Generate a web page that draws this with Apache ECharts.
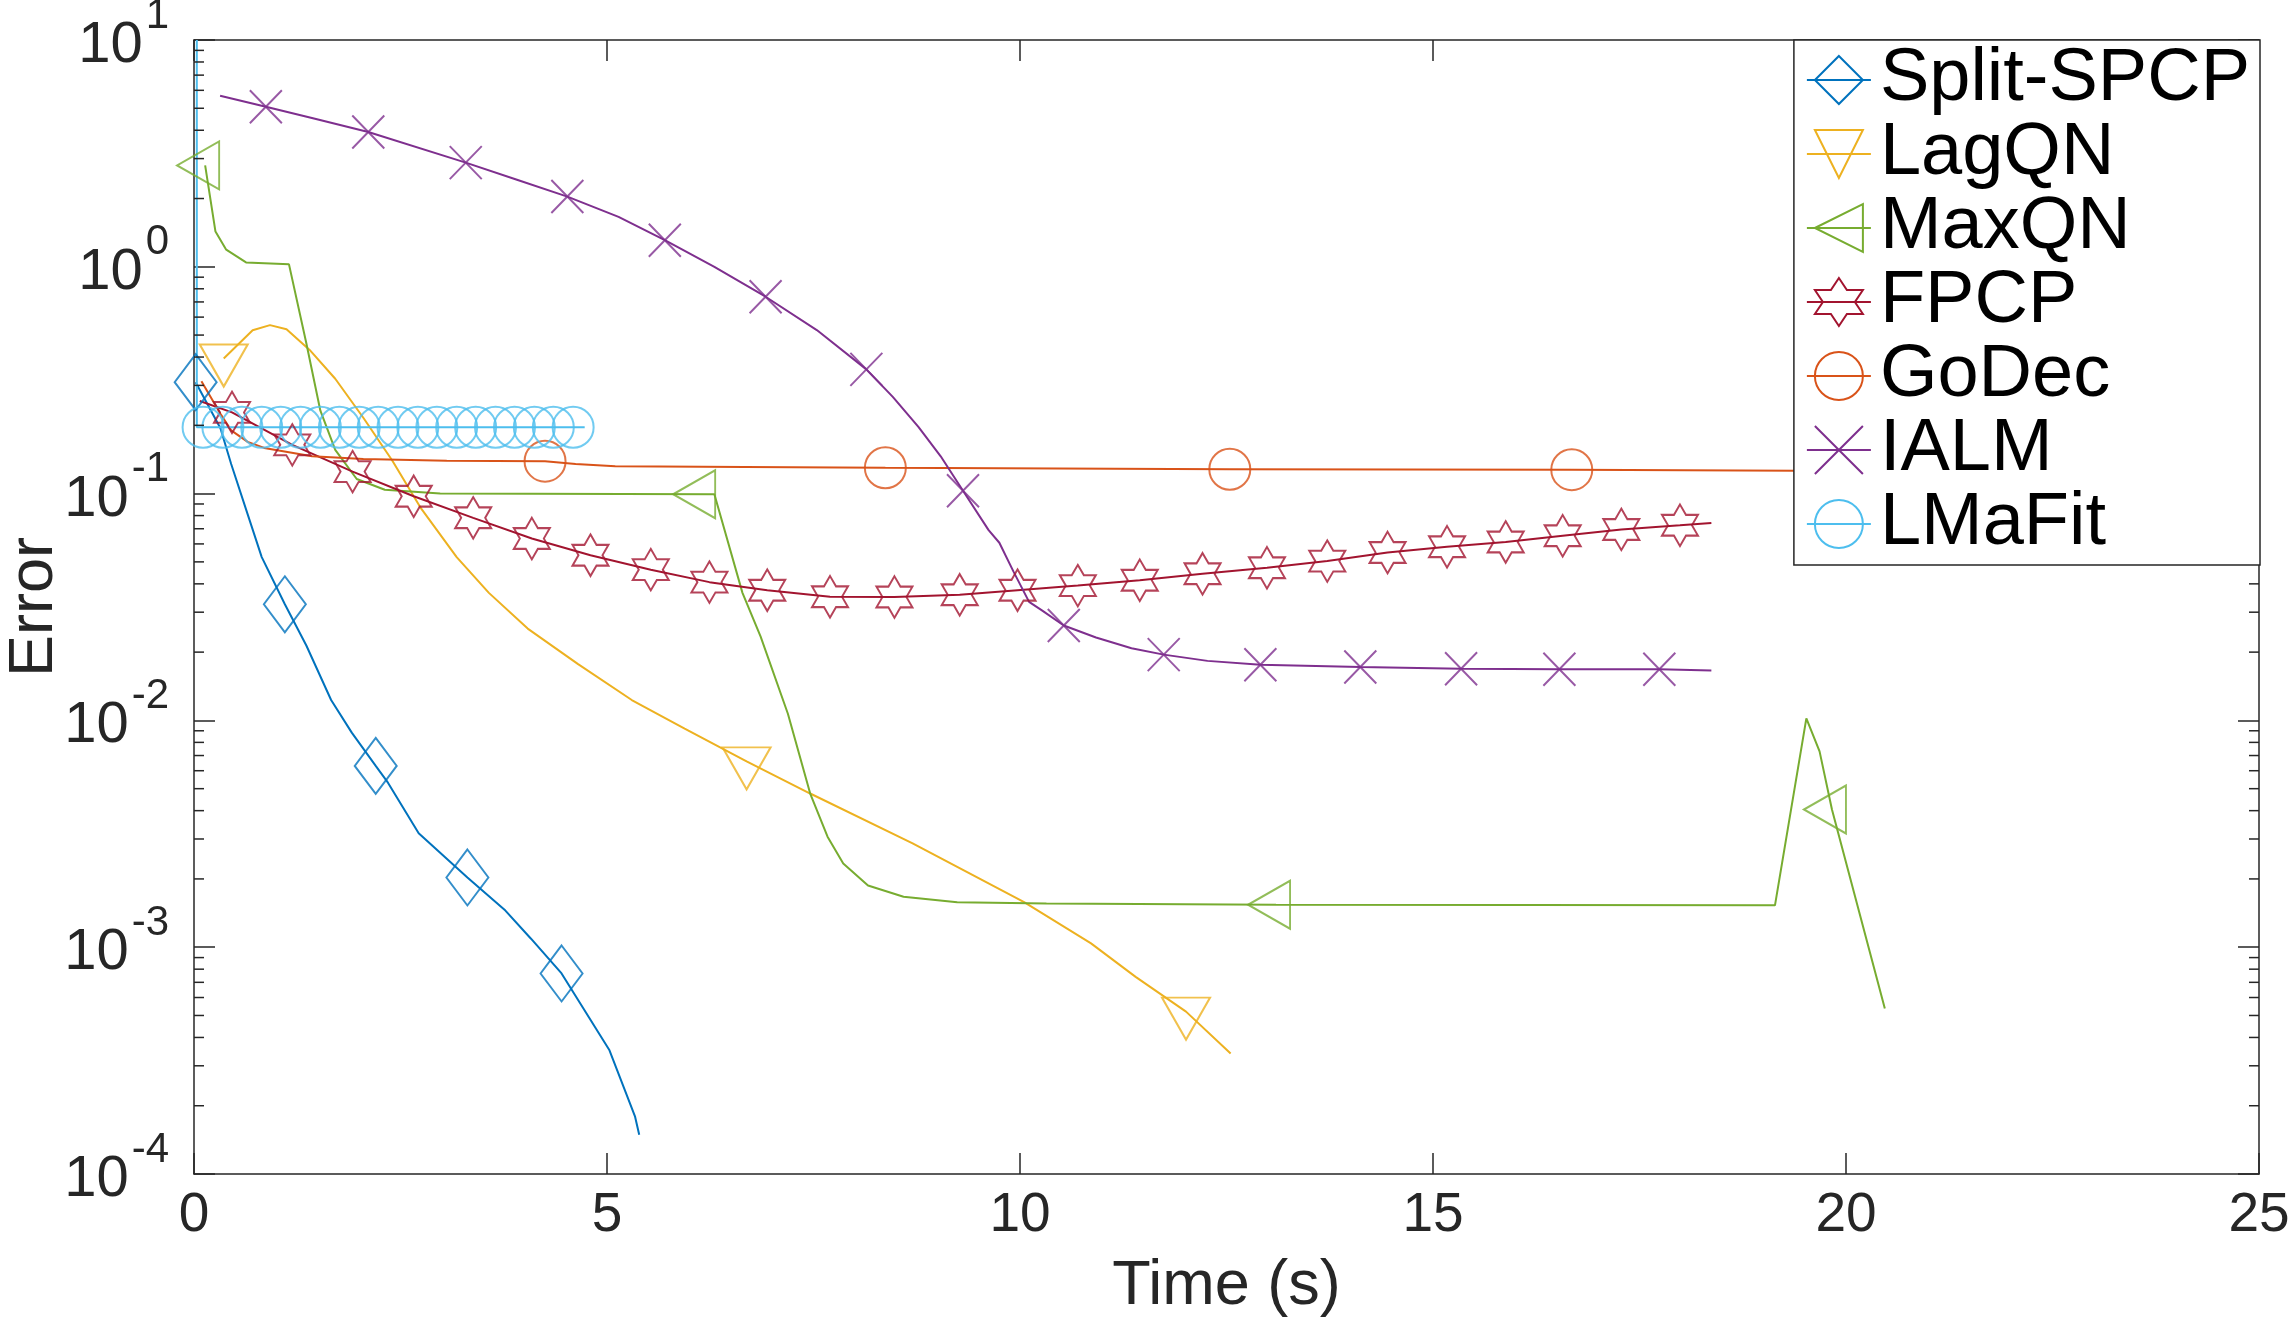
<!DOCTYPE html>
<html><head><meta charset="utf-8">
<script src="https://cdn.jsdelivr.net/npm/echarts@6/dist/echarts.min.js"></script>
<style>html,body{margin:0;padding:0;background:#fff}#c{width:2294px;height:1317px}</style>
</head><body><div id="c"></div>
<script>
// ---------------- data (time in s, error) ----------------
const seriesNames = ['Split-SPCP','LagQN','MaxQN','FPCP','GoDec','IALM','LMaFit'];
const xTickValues = [0,5,10,15,20,25];
const yTickExponents = [-4,-3,-2,-1,0,1];

const splitCurve = [[0.02,0.31],[0.32,0.194],[0.45,0.135],[0.65,0.081],[0.82,0.0525],[1.1,0.0325],[1.36,0.0214],[1.66,0.0123],[1.91,0.00883],[2.2,0.0063],[2.35,0.0053],[2.72,0.00318],[3.31,0.00203],[3.77,0.00145],[4.08,0.00109],[4.45,0.000766],[5.03,0.000351],[5.34,0.000179],[5.39,0.000149]];
const splitMarks = [[0.02,0.31],[1.1,0.0325],[2.2,0.0063],[3.31,0.00203],[4.45,0.000766]];

const lagCurve = [[0.36,0.394],[0.71,0.525],[0.92,0.553],[1.12,0.53],[1.40,0.43],[1.71,0.321],[2.05,0.216],[2.40,0.14],[2.74,0.087],[3.18,0.0525],[3.57,0.0365],[4.04,0.0254],[4.65,0.0177],[5.30,0.0123],[5.94,0.0092],[6.69,0.0066],[7.46,0.00476],[8.70,0.00287],[10.05,0.00158],[10.86,0.00104],[11.40,0.00074],[12.01,0.00052],[12.55,0.00034]];
const lagMarks = [[0.36,0.394],[6.69,0.0066],[12.01,0.00052]];

const maxCurve = [[0.135,2.80],[0.26,1.43],[0.39,1.19],[0.63,1.045],[1.15,1.025],[1.36,0.46],[1.53,0.232],[1.71,0.156],[1.97,0.116],[2.31,0.104],[2.98,0.1],[6.30,0.0993],[6.64,0.0365],[6.86,0.0234],[7.19,0.0107],[7.46,0.00476],[7.67,0.00307],[7.86,0.00234],[8.16,0.00187],[8.59,0.00167],[9.24,0.00158],[10.32,0.00156],[13.1,0.00154],[19.14,0.00153],[19.52,0.0102],[19.68,0.0073],[19.83,0.00405],[20.47,0.000537]];
const maxMarks = [[0.135,2.80],[6.14,0.0993],[13.1,0.00154],[19.83,0.00405]];

const fpcpCurve = [[0.07,0.256],[0.46,0.228],[1.19,0.164],[1.92,0.125],[2.66,0.0973],[3.38,0.0782],[4.09,0.0634],[4.80,0.0535],[5.53,0.0462],[6.24,0.0407],[6.94,0.0375],[7.70,0.0351],[8.48,0.0350],[9.27,0.0358],[9.97,0.0375],[10.70,0.0393],[11.45,0.0415],[12.21,0.0443],[12.99,0.0471],[13.72,0.0504],[14.45,0.0550],[15.17,0.0583],[15.88,0.0612],[16.57,0.0652],[17.28,0.0695],[17.99,0.0725],[18.37,0.0742]];
const fpcpMarks = [[0.46,0.228],[1.19,0.164],[1.92,0.125],[2.66,0.0973],[3.38,0.0782],[4.09,0.0634],[4.80,0.0535],[5.53,0.0462],[6.24,0.0407],[6.94,0.0375],[7.70,0.0351],[8.48,0.0350],[9.27,0.0358],[9.97,0.0375],[10.70,0.0393],[11.45,0.0415],[12.21,0.0443],[12.99,0.0471],[13.72,0.0504],[14.45,0.0550],[15.17,0.0583],[15.88,0.0612],[16.57,0.0652],[17.28,0.0695],[17.99,0.0725]];

const godecCurve = [[0.09,0.313],[0.32,0.225],[0.45,0.19],[0.65,0.169],[0.85,0.159],[1.43,0.146],[2.05,0.142],[3.06,0.1395],[4.25,0.139],[4.62,0.135],[5.10,0.132],[6.67,0.131],[8.37,0.130],[12.54,0.128],[16.68,0.1275],[19.41,0.126],[22,0.126]];
const godecMarks = [[4.25,0.139],[8.37,0.130],[12.54,0.128],[16.68,0.1275]];

const ialmCurve = [[0.316,5.68],[0.87,5.08],[1.44,4.52],[2.11,3.93],[3.29,2.88],[3.91,2.42],[4.52,2.04],[5.14,1.66],[5.70,1.31],[6.30,1.0],[6.92,0.738],[7.54,0.526],[8.14,0.353],[8.46,0.267],[8.77,0.197],[9.04,0.146],[9.31,0.103],[9.62,0.069],[9.75,0.0607],[9.92,0.0454],[10.11,0.0333],[10.27,0.0305],[10.53,0.0262],[10.92,0.0232],[11.35,0.0208],[11.74,0.0195],[12.27,0.0183],[12.91,0.0176],[14.12,0.0172],[15.34,0.0169],[16.53,0.0168],[17.74,0.0168],[18.37,0.0166]];
const ialmMarks = [[0.87,5.08],[2.11,3.93],[3.29,2.88],[4.52,2.04],[5.70,1.31],[6.92,0.738],[8.14,0.353],[9.31,0.103],[10.53,0.0262],[11.74,0.0195],[12.91,0.0176],[14.12,0.0172],[15.34,0.0169],[16.53,0.0168],[17.74,0.0168]];

const lmafitCurve = [[0.034,10],[0.034,0.196],[4.73,0.196]];
const lmafitMarks = [[0.11,0.196],[0.35,0.196],[0.58,0.196],[0.82,0.196],[1.05,0.196],[1.29,0.196],[1.53,0.196],[1.76,0.196],[2.0,0.196],[2.23,0.196],[2.47,0.196],[2.71,0.196],[2.94,0.196],[3.18,0.196],[3.41,0.196],[3.65,0.196],[3.88,0.196],[4.12,0.196],[4.35,0.196],[4.59,0.196]];

const minorTickMultipliers = [2,3,4,5,6,7,8,9];

// ---------------- styling ----------------
const FONT = "'Liberation Sans', Arial, Helvetica, sans-serif";
const AX = '#262626';
const colors = ['#0072BD','#EDB120','#77AC30','#A2142F','#D95319','#7E2F8E','#4DBEEE'];
const HEX = 'path://M100,0 L128.87,50 L186.6,50 L157.74,100 L186.6,150 L128.87,150 L100,200 L71.13,150 L13.4,150 L42.26,100 L13.4,50 L71.13,50 Z';
const markerDefs = [
  {symbol:'diamond', size:[42,56], offset:[0,0]},
  {symbol:'path://M0,0 L20,0 L10,17.32 Z', size:[48,42], offset:[0,7]},
  {symbol:'path://M0,10 L17.32,0 L17.32,20 Z', size:[42,48], offset:[-7,0]},
  {symbol:HEX, size:[36,41.5], offset:[0,0]},
  {symbol:'circle', size:[41,41], offset:[0,0]},
  {symbol:'path://M0,0 L10,10 M10,0 L0,10', size:[32,33], offset:[0,0]},
  {symbol:'circle', size:[41,41], offset:[0,0]}
];
const curves = [splitCurve, lagCurve, maxCurve, fpcpCurve, godecCurve, ialmCurve, lmafitCurve];
const marks = [splitMarks, lagMarks, maxMarks, fpcpMarks, godecMarks, ialmMarks, lmafitMarks];

const minorVals = [];
yTickExponents.slice(0,-1).forEach(e => minorTickMultipliers.forEach(k => minorVals.push(k * Math.pow(10, e))));

const series = [];
seriesNames.forEach((name, i) => {
  const c = colors[i], m = markerDefs[i];
  series.push({
    type:'line', name, data: curves[i], xAxisIndex:0, yAxisIndex:0,
    symbol: m.symbol, symbolSize: m.size, showSymbol:false, silent:true,
    lineStyle:{color:c, width:2}, itemStyle:{color:'transparent', borderColor:c, borderWidth:2},
    emphasis:{disabled:true}, clip:true, z:2
  });
  series.push({
    type:'scatter', name, data: marks[i], xAxisIndex:0, yAxisIndex:0,
    symbol: m.symbol, symbolSize: m.size, symbolOffset: m.offset, silent:true,
    itemStyle:{color:'transparent', borderColor:c, borderWidth:2},
    emphasis:{disabled:true}, z:2
  });
});
series.push({
  type:'custom', xAxisIndex:0, yAxisIndex:0, silent:true, clip:false, z:5,
  data: minorVals.map(v => [0, v]), encode:{x:0, y:1},
  renderItem: (p, api) => {
    const y = api.coord([0, api.value(1)])[1];
    const xl = api.coord([xTickValues[0], 1])[0];
    const xr = api.coord([xTickValues[xTickValues.length-1], 1])[0];
    return {type:'group', children:[
      {type:'line', shape:{x1:xl, y1:y, x2:xl+10, y2:y}, style:{stroke:AX, lineWidth:1.5}},
      {type:'line', shape:{x1:xr-10, y1:y, x2:xr, y2:y}, style:{stroke:AX, lineWidth:1.5}}
    ]};
  }
});

const axLine = {show:true, onZero:false, lineStyle:{color:AX, width:1.5}};
const axTick = {show:true, inside:true, length:21, lineStyle:{color:AX, width:1.5}};

const option = {
  animation:false,
  backgroundColor:'#ffffff',
  grid:{left:194, right:35, top:40, bottom:143, containLabel:false, outerBoundsMode:'none'},
  xAxis:[
    {type:'value', position:'bottom', min:0, max:25, interval:5,
     axisLine:axLine, axisTick:axTick, splitLine:{show:false},
     axisLabel:{fontSize:55, color:AX, fontFamily:FONT, margin:14},
     name:'Time (s)', nameLocation:'middle', nameGap:81, nameMoveOverlap:false,
     nameTextStyle:{fontSize:63, color:AX, fontFamily:FONT}},
    {type:'value', position:'top', min:0, max:25, interval:5,
     axisLine:axLine, axisTick:axTick, splitLine:{show:false}, axisLabel:{show:false}}
  ],
  yAxis:[
    {type:'log', logBase:10, position:'left', min:1e-4, max:10,
     axisLine:axLine, axisTick:axTick, splitLine:{show:false}, minorTick:{show:false},
     axisLabel:{margin:25, color:AX,
       formatter: v => '{b|10}{s|' + Math.round(Math.log10(v)) + '}',
       rich:{
         b:{fontSize:58, color:AX, fontFamily:FONT, padding:[12,0,0,0]},
         s:{fontSize:42, color:AX, fontFamily:FONT, padding:[0,0,48,3]}
       }},
     name:'Error', nameLocation:'middle', nameGap:128, nameRotate:90, nameMoveOverlap:false,
     nameTextStyle:{fontSize:63, color:AX, fontFamily:FONT}},
    {type:'log', logBase:10, position:'right', min:1e-4, max:10,
     axisLine:axLine, axisTick:axTick, splitLine:{show:false}, axisLabel:{show:false}}
  ],
  legend:{
    data: seriesNames, orient:'vertical', right:34, top:40,
    itemWidth:64, itemHeight:60, itemGap:0, padding:[3,10,4,12],
    backgroundColor:'#ffffff', borderColor:AX, borderWidth:1.5, borderRadius:0,
    selectedMode:false, z:10,
    textStyle:{fontSize:74, color:'#000', fontFamily:FONT, lineHeight:74, padding:[0,0,0,4]}
  },
  series
};
const chart = echarts.init(document.getElementById('c'), null, {renderer:'canvas'});
chart.setOption(option);
</script>
</body></html>
